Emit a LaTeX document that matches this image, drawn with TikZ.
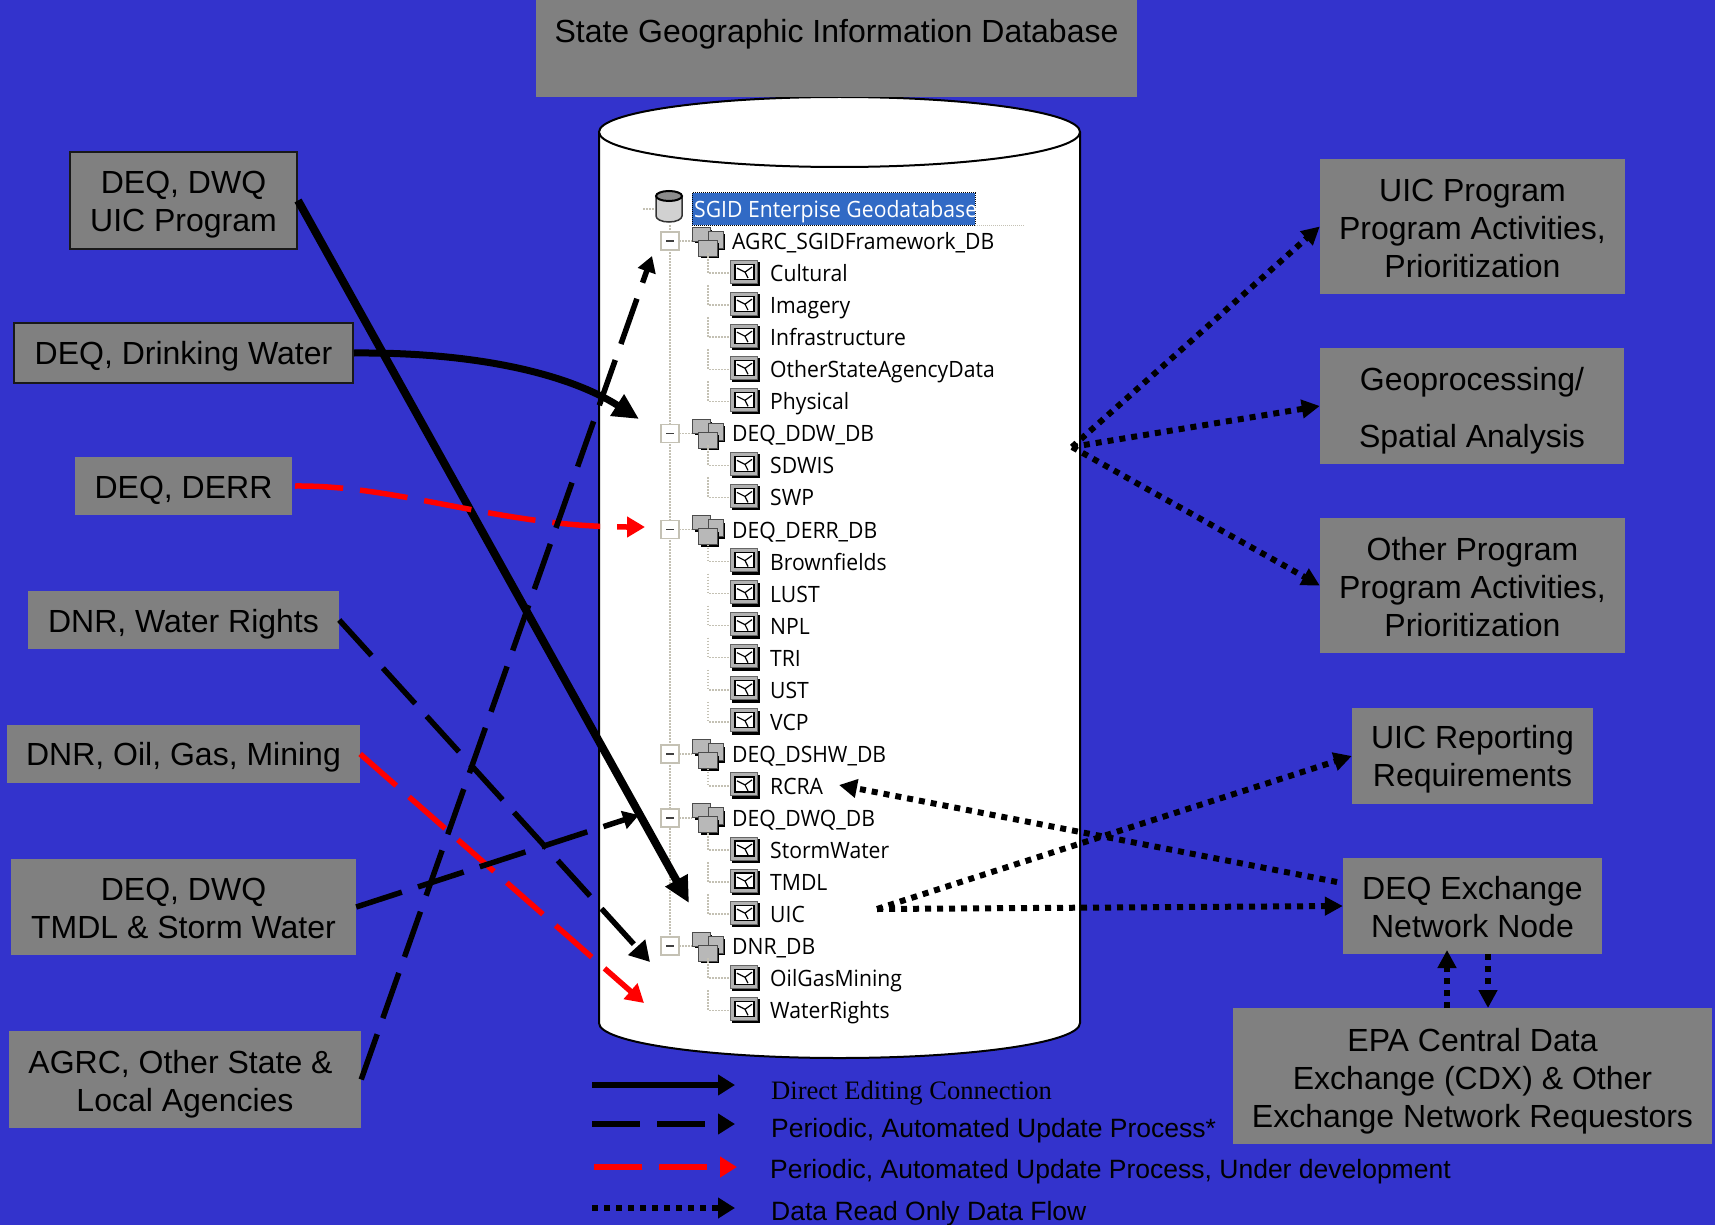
\documentclass[tikz,border=0pt]{standalone}
\usepackage{fontspec}
\setmainfont{Liberation Sans}
\newfontfamily\timesf{Liberation Serif}
\newfontfamily\treef[FakeStretch=0.94]{Open Sans}
\usetikzlibrary{arrows.meta,shapes.geometric}
\definecolor{bgblue}{HTML}{3333CC}
\definecolor{boxgrey}{HTML}{808080}
\definecolor{selblue}{HTML}{316AC5}
\definecolor{treeline}{HTML}{C4C1B4}
\tikzset{
  x=1pt,y=-1pt,
  gbox/.style={fill=boxgrey,draw=none,inner sep=0pt},
  bbox/.style={gbox,draw=black!90,line width=2pt},
  btext/.style={inner sep=0pt,align=center,font=\fontsize{32}{38}\selectfont,text=black},
  conn/.style={line width=7pt,black,-{Triangle[length=26pt,width=24pt]}},
  rconn/.style={line width=5.5pt,red,dash pattern=on 48pt off 17pt,-{Triangle[length=18pt,width=20pt]}},
  dconn/.style={line width=5.5pt,black,dash pattern=on 48pt off 17pt,-{Triangle[length=20pt,width=22pt]}},
  dotc/.style={line width=6pt,black,dash pattern=on 6pt off 6pt,-{Triangle[length=18pt,width=18pt]}},
  leg/.style={line width=6.5pt,-{Triangle[length=17pt,width=20pt]}},
  leaf/.style={anchor=west,inner sep=0pt,text height=16pt,text depth=5pt,font=\treef\fontsize{22.5}{26}\selectfont,text=black},
  legt/.style={anchor=west,inner sep=0pt,text height=20pt,text depth=6pt,font=\fontsize{26.5}{30}\selectfont,text=black},
  tl/.style={treeline,line width=1.5pt,dash pattern=on 1.5pt off 1.5pt},
}
\newcommand{\gb}[8]{%
  \node[#1,minimum width=#4pt-#2pt,minimum height=#5pt-#3pt] (#6) at ({(#2+#4)/2},{(#3+#5)/2}) {};
  \node[btext,yshift=-#7pt] (#6txt) at (#6.center) {#8};}
\begin{document}
\begin{tikzpicture}
\useasboundingbox (0,0) rectangle (1715,1225);
\fill[bgblue] (0,0) rectangle (1715,1225);
% cylinder
\path[fill=white,draw=black,line width=2pt] (599,132) -- (599,1023) arc[start angle=180,end angle=360,x radius=240.5,y radius=-35] -- (1080,132);
\fill[white,draw=black,line width=2pt] (839.5,132) ellipse[x radius=240.5,y radius=35];
% boxes
\gb{gbox}{536}{0}{1137}{97}{top}{-14.5}{State Geographic Information Database}
\gb{bbox}{70}{152}{297}{249}{uicp}{4}{DEQ, DWQ\\UIC Program}
\gb{bbox}{14}{323}{353}{383}{dw}{3.5}{DEQ, Drinking Water}
\gb{gbox}{75}{457}{292}{515}{derr}{4}{DEQ, DERR}
\gb{gbox}{28}{591}{339}{649}{wr}{4}{DNR, Water Rights}
\gb{gbox}{7}{725}{360}{783}{ogm}{3.5}{DNR, Oil, Gas, Mining}
\gb{gbox}{11}{859}{356}{955}{tmdl}{1}{DEQ, DWQ\\TMDL \& Storm Water}
\gb{gbox}{9}{1031}{361}{1128}{agrc}{4.5}{AGRC, Other State \&\hspace*{9pt}\\Local Agencies}
\gb{gbox}{1320}{159}{1625}{294}{rp1}{2}{UIC Program\\Program Activities,\\Prioritization}
\gb{gbox}{1320}{348}{1624}{464}{rp2}{5}{Geoprocessing/\\[19pt]Spatial Analysis}
\gb{gbox}{1320}{518}{1625}{653}{rp3}{2}{Other Program\\Program Activities,\\Prioritization}
\gb{gbox}{1352}{708}{1593}{804}{rep}{3.5}{UIC Reporting\\Requirements}
\gb{gbox}{1343}{858}{1602}{954}{node}{1.5}{DEQ Exchange\\Network Node}
\gb{gbox}{1233}{1008}{1712}{1144}{epa}{5}{EPA Central Data\\Exchange (CDX) \& Other\\Exchange Network Requestors}
% tree
\draw[tl] (670,225) -- (670,946);
\draw[tl] (643,209) -- (655,209);
\fill[selblue] (692,193) rectangle (975,225);
\draw[black,line width=1pt,densely dotted] (692,193) rectangle (975,225);
\draw[treeline,line width=1pt,densely dotted] (975,225) -- (1025,225);
\node[leaf,text=white] (root) at (694,212) {SGID Enterpise Geodatabase};
\foreach \n/\t/\k in {1/AGRC\_SGIDFramework\_DB/d,2/Cultural/l,3/Imagery/l,4/Infrastructure/l,5/OtherStateAgencyData/l,6/Physical/l,7/DEQ\_DDW\_DB/d,8/SDWIS/l,9/SWP/l,10/DEQ\_DERR\_DB/d,11/Brownfields/l,12/LUST/l,13/NPL/l,14/TRI/l,15/UST/l,16/VCP/l,17/DEQ\_DSHW\_DB/d,18/RCRA/l,19/DEQ\_DWQ\_DB/d,20/StormWater/l,21/TMDL/l,22/UIC/l,23/DNR\_DB/d,24/OilGasMining/l,25/WaterRights/l}{
  \pgfmathsetmacro{\ry}{209+32.05*\n}
  \if\k d
    \draw[tl] (679,\ry) -- (692,\ry);
    \draw[treeline,fill=white,line width=1.5pt] (661,{\ry-9}) rectangle (679,{\ry+9});
    \draw[black!75,line width=1.5pt] (666,\ry) -- (674,\ry);
    \foreach \xa/\ya/\xb/\yb in {692/-14/710/0,708/-10/723/7,698/-1/717/15}{
      \fill[black] ({\xa+3},{\ry+\ya+3}) rectangle ({\xb+2},{\ry+\yb+2});
      \draw[black!70,fill=black!28,line width=1pt] (\xa,{\ry+\ya}) rectangle (\xb,{\ry+\yb});
    }
    \node[leaf] (t\n) at (732,{\ry+3}) {\t};
  \else
    \draw[tl] (708,{\ry-20}) -- (708,\ry) -- (730,\ry);
    \fill[black] (732,{\ry-11}) rectangle (760,{\ry+13});
    \draw[black!60,fill=black!30,line width=1pt] (730,{\ry-13}) rectangle (757,{\ry+10});
    \draw[black,fill=white,line width=1.2pt] (735,{\ry-9}) rectangle (754,{\ry+6});
    \draw[black,line width=1.2pt] (737,{\ry-5}) -- (745,{\ry-1}) -- (752,{\ry-6}) (745,{\ry-1}) -- (748,{\ry+5});
    \node[leaf] (t\n) at (770,{\ry+3}) {\t};
  \fi
}
% root icon
\draw[black!80,fill=black!18,line width=1.5pt] (656,196) -- (656,216) arc[start angle=180,end angle=360,x radius=13,y radius=-6] -- (682,196);
\fill[black!45,draw=black,line width=2pt] (669,196) ellipse[x radius=13,y radius=5];
% connectors
\coordinate (e1) at (689,903);
\draw[conn,line width=8pt] (uicp.east) -- (e1);
\coordinate (e2) at (639,419);
\draw[conn] (dw.east) .. controls (480,352) and (570,375) .. (e2);
\coordinate (e3) at (645,527);
\draw[rconn] (derr.east) ++(3,0) .. controls (400,485) and (500,527) .. (e3);
\coordinate (e4) at (650,962);
\draw[dconn] (wr.east) -- (e4);
\coordinate (e5) at (644,1003);
\draw[rconn] (ogm.east) -- (e5);
\coordinate (e6) at (639,815);
\draw[dconn,-{Triangle[length=16pt,width=18pt]}] (tmdl.east) -- (e6);
\coordinate (e7) at (652,256);
\draw[dconn,-{Triangle[length=16pt,width=18pt]}] (agrc.east) -- (e7);
% dotted right
\coordinate (s1) at (1072,447);
\draw[dotc] (s1) -- (rp1.west);
\draw[dotc] (s1) -- (rp2.west);
\draw[dotc] (s1) -- (rp3.west);
\coordinate (s2) at (877,909);
\draw[dotc] (s2) -- (rep.west);
\draw[dotc] (s2) -- (node.west);
\coordinate (e8) at (839,785);
\coordinate (s3) at (1337,882);
\draw[dotc] (s3) -- (e8);
\coordinate (u1) at (1447,1008); \coordinate (u2) at (1447,950);
\coordinate (d1) at (1488,954); \coordinate (d2) at (1488,1008);
\draw[dotc] (u1) -- (u2);
\draw[dotc] (d1) -- (d2);
% legend
\coordinate (l1a) at (592,1085); \coordinate (l1b) at (735,1085);
\coordinate (l2a) at (592,1124); \coordinate (l2b) at (735,1124);
\coordinate (l3a) at (594,1167); \coordinate (l3b) at (737,1167);
\coordinate (l4a) at (592,1208); \coordinate (l4b) at (735,1208);
\draw[conn,leg] (l1a) -- (l1b);
\draw[dconn,leg] (l2a) -- (l2b);
\draw[rconn,leg] (l3a) -- (l3b);
\draw[dotc,-{Triangle[length=17pt,width=20pt]}] (l4a) -- (l4b);
\node[legt,font=\timesf\fontsize{26.6}{30}\selectfont] (lt1) at (771,1092) {Direct Editing Connection};
\node[legt] (lt2) at (771,1130) {Periodic, Automated Update Process*};
\node[legt] (lt3) at (770,1171) {Periodic, Automated Update Process, Under development};
\node[legt] (lt4) at (771,1213) {Data Read Only Data Flow};
\end{tikzpicture}
\end{document}
